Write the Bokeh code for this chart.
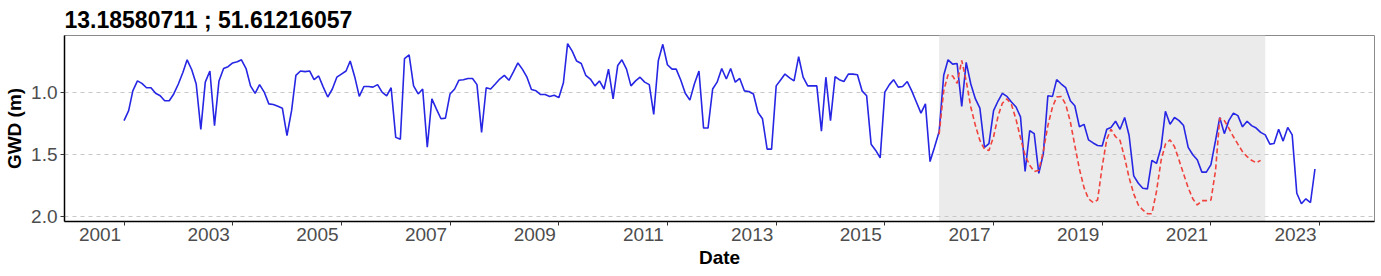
import pandas as pd
from bokeh.plotting import figure
from bokeh.models import (Range1d, FixedTicker, NumeralTickFormatter,
                          BoxAnnotation, ColumnDataSource)
from bokeh.embed import file_html
from bokeh.resources import INLINE

# ---------------- data ----------------
title_text = "13.18580711 ; 51.61216057"
obs_start = "2001-01-01"
obs_gwd = [
    1.23, 1.15, 0.99, 0.91, 0.93, 0.965, 0.965, 1.01, 1.03, 1.07, 1.07, 1.015,
    0.935, 0.84, 0.74, 0.82, 0.935, 1.30, 0.92, 0.83, 1.27, 0.91, 0.81, 0.795,
    0.765, 0.755, 0.74, 0.81, 0.95, 1.01, 0.94, 1.00, 1.095, 1.10, 1.115, 1.13,
    1.35, 1.15, 0.865, 0.83, 0.835, 0.83, 0.90, 0.87, 0.96, 1.04, 0.975, 0.88,
    0.855, 0.83, 0.75, 0.88, 1.035, 0.955, 0.955, 0.96, 0.94, 1.00, 1.03, 0.965,
    1.365, 1.38, 0.73, 0.70, 0.95, 1.015, 0.975, 1.445, 1.055, 1.135, 1.215, 1.21,
    1.015, 0.975, 0.905, 0.90, 0.89, 0.89, 0.94, 1.325, 0.965, 0.975, 0.935, 0.895,
    0.865, 0.905, 0.84, 0.765, 0.815, 0.88, 0.98, 0.99, 1.02, 1.02, 1.035, 1.025,
    1.045, 0.925, 0.61, 0.67, 0.75, 0.77, 0.865, 0.895, 0.95, 0.91, 0.975, 0.815,
    1.055, 0.785, 0.74, 0.815, 0.95, 0.91, 0.88, 0.92, 0.94, 1.18, 0.745, 0.615,
    0.78, 0.815, 0.815, 0.905, 1.01, 1.065, 0.935, 0.83, 1.29, 1.29, 0.975, 0.92,
    0.81, 0.895, 0.81, 0.92, 0.89, 0.99, 0.995, 1.015, 1.165, 1.215, 1.46, 1.46,
    0.95, 0.90, 0.855, 0.885, 0.91, 0.715, 0.88, 0.95, 0.95, 0.95, 1.315, 0.88,
    1.23, 0.875, 0.90, 0.915, 0.855, 0.855, 0.86, 0.99, 1.03, 1.42, 1.47, 1.53,
    1.00, 0.94, 0.90, 0.96, 0.955, 0.915, 0.99, 1.08, 1.17, 1.095, 1.56, 1.445,
    1.32, 0.865, 0.74, 0.775, 0.77, 1.115, 0.76, 0.935, 1.055, 1.13, 1.445, 1.415,
    1.15, 1.07, 1.01, 1.035, 1.08, 1.12, 1.20, 1.64, 1.31, 1.335, 1.655, 1.50,
    1.03, 1.035, 0.90, 0.935, 0.965, 1.07, 1.11, 1.28, 1.26, 1.385, 1.41, 1.43,
    1.435, 1.30, 1.285, 1.235, 1.30, 1.205, 1.35, 1.675, 1.735, 1.775, 1.78, 1.55,
    1.575, 1.445, 1.155, 1.26, 1.205, 1.23, 1.27, 1.445, 1.505, 1.545, 1.645, 1.645,
    1.585, 1.39, 1.205, 1.335, 1.23, 1.17, 1.19, 1.28, 1.235, 1.27, 1.29, 1.325,
    1.345, 1.42, 1.415, 1.30, 1.395, 1.285, 1.345, 1.815, 1.90, 1.86, 1.89, 1.62,
]
pred_start = "2016-01-01"
pred_gwd = [
    1.34, 0.99, 0.86, 0.87, 0.93, 0.745, 0.91, 1.12, 1.27, 1.39, 1.46, 1.47,
    1.36, 1.19, 1.09, 1.055, 1.10, 1.22, 1.37, 1.51, 1.59, 1.64, 1.63, 1.48,
    1.27, 1.12, 1.04, 1.035, 1.10, 1.24, 1.43, 1.62, 1.77, 1.86, 1.89, 1.87,
    1.60, 1.38, 1.30, 1.36, 1.39, 1.53, 1.69, 1.82, 1.91, 1.95, 1.98, 1.98,
    1.80, 1.55, 1.42, 1.385, 1.44, 1.55, 1.66, 1.77, 1.86, 1.91, 1.875, 1.875,
    1.87, 1.63, 1.21, 1.23, 1.29, 1.36, 1.42, 1.48, 1.52, 1.55, 1.57, 1.55,
]
test_period = ["2016-01-01", "2022-01-01"]
tick_years = list(range(2001, 2024, 2))
tick_labels = [str(y) for y in tick_years]
y_ticks = [1.0, 1.5, 2.0]

# ---------------- build ----------------
obs_dates = pd.date_range(obs_start, periods=len(obs_gwd), freq="MS")
pred_dates = pd.date_range(pred_start, periods=len(pred_gwd), freq="MS")

def ms(ts):
    return pd.Timestamp(ts).value / 1e6

W, H = 1381, 276
BORDER_L, BORDER_R, BORDER_T, BORDER_B = 64, 7, 35, 55
FRAME_W = W - BORDER_L - BORDER_R

t0, t1 = ms(obs_dates[0]), ms(obs_dates[-1])
span = t1 - t0
x_start, x_end = t0 - 0.05 * span, t1 + 0.05 * span
x_range = Range1d(x_start, x_end)
y_range = Range1d(2.043, 0.544)

FONT = "Liberation Sans"

p = figure(width=W, height=H, x_axis_type="datetime",
           x_range=x_range, y_range=y_range,
           output_backend="svg", toolbar_location=None,
           min_border_left=BORDER_L, min_border_right=BORDER_R,
           min_border_top=BORDER_T, min_border_bottom=BORDER_B)

p.background_fill_color = "white"
p.border_fill_color = "white"
p.outline_line_color = "#8a8a8a"
p.outline_line_width = 1

p.title.text = title_text
p.title.text_font = FONT
p.title.text_font_size = "23px"
p.title.text_font_style = "bold"
p.title.text_color = "black"
p.title.align = "left"
p.title.standoff = 6

band = BoxAnnotation(left=ms(test_period[0]), right=ms(test_period[1]),
                     fill_color="#EBEBEB", fill_alpha=1.0, line_color=None,
                     level="image")
p.add_layout(band)

p.xgrid.visible = False
p.ygrid.ticker = FixedTicker(ticks=y_ticks)
p.ygrid.grid_line_color = "#C8C8C8"
p.ygrid.grid_line_dash = "4 4"
p.ygrid.grid_line_width = 1

obs_src = ColumnDataSource(dict(date=obs_dates, gwd=obs_gwd))
pred_src = ColumnDataSource(dict(date=pred_dates, gwd=pred_gwd))
p.line("date", "gwd", source=obs_src, line_color="#2626E4", line_width=1.6)
p.line("date", "gwd", source=pred_src, line_color="#F0433D", line_width=1.6,
       line_dash="5 3")

# x axis: tick marks at 1 Jan of each year (minor ticks), year labels that end
# just left of their tick (major ticks shifted left by 24 px, no tick mark)
ms_per_px = (x_end - x_start) / FRAME_W
tick_ms = [ms(f"{y}-01-01") for y in tick_years]
label_ms = [t - 24 * ms_per_px for t in tick_ms]

xa = p.xaxis[0]
xa.ticker = FixedTicker(ticks=label_ms, minor_ticks=tick_ms)
xa.major_label_overrides = {lm: txt for lm, txt in zip(label_ms, tick_labels)}
xa.major_label_text_font = FONT
xa.major_label_text_font_size = "19px"
xa.major_label_text_color = "#4D4D4D"
xa.major_label_standoff = 2
xa.major_tick_in = 0
xa.major_tick_out = 0
xa.major_tick_line_color = None
xa.minor_tick_in = 0
xa.minor_tick_out = 4
xa.minor_tick_line_color = "#333333"
xa.minor_tick_line_width = 1
xa.axis_label = "Date"
xa.axis_label_text_font = FONT
xa.axis_label_text_font_size = "19px"
xa.axis_label_text_font_style = "bold"
xa.axis_label_text_color = "black"
xa.axis_label_standoff = 3
xa.axis_line_color = "black"
xa.axis_line_width = 1.5

ya = p.yaxis[0]
ya.ticker = FixedTicker(ticks=y_ticks)
ya.formatter = NumeralTickFormatter(format="0.0")
ya.axis_label = "GWD (m)"
ya.axis_label_text_font = FONT
ya.axis_label_text_font_size = "19px"
ya.axis_label_text_font_style = "bold"
ya.axis_label_text_color = "black"
ya.axis_label_standoff = 3
ya.major_label_text_font = FONT
ya.major_label_text_font_size = "19px"
ya.major_label_text_color = "#4D4D4D"
ya.major_label_standoff = 3
ya.minor_tick_line_color = None
ya.major_tick_in = 0
ya.major_tick_out = 4
ya.major_tick_line_color = "#333333"
ya.axis_line_color = "black"
ya.axis_line_width = 1.5

open("out.html", "w").write(file_html(p, INLINE))
